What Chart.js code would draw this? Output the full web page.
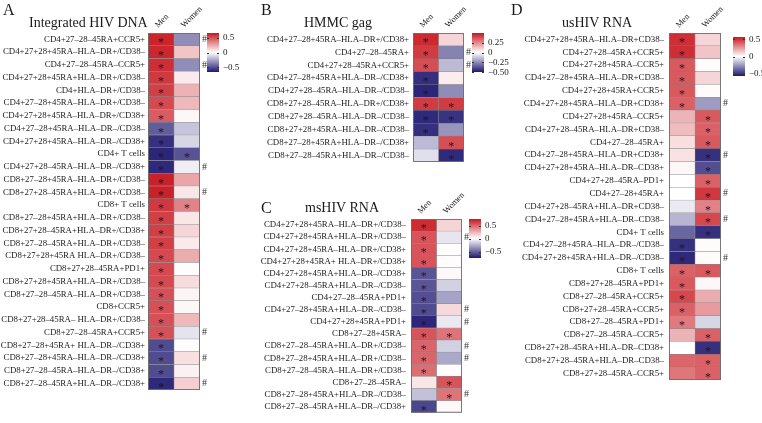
<!DOCTYPE html>
<html>
<head>
<meta charset="utf-8">
<script src="https://cdn.jsdelivr.net/npm/chart.js@4.4.1/dist/chart.umd.min.js"></script>
<style>
  body { margin: 0; background: #fff; }
  #wrap { position: relative; width: 762px; height: 423px; overflow: hidden; font-family: "Liberation Serif", serif; color: #1a1a1a; }
  canvas { position: absolute; }
  .letter { position: absolute; font-size: 16px; line-height: 16px; }
  .title { position: absolute; font-size: 14px; line-height: 14px; white-space: nowrap; }
  .cbar { position: absolute; width: 12px; height: 39px; background: linear-gradient(to bottom, rgb(200,22,30), #fff 50%, rgb(30,24,112)); }
  .cbtick { position: absolute; font-size: 9px; line-height: 9px; white-space: nowrap; }
  .cbmark { position: absolute; width: 2px; height: 1px; background: #333; }
</style>
</head>
<body>
<div id="wrap">
  <canvas id="chartA" width="255" height="423" style="left:0;top:0"></canvas>
  <canvas id="chartB" width="250" height="180" style="left:255px;top:0"></canvas>
  <canvas id="chartC" width="250" height="243" style="left:255px;top:180px"></canvas>
  <canvas id="chartD" width="257" height="423" style="left:505px;top:0"></canvas>

  <div class="letter" style="left:3px;top:2px">A</div>
  <div class="letter" style="left:261px;top:2px">B</div>
  <div class="letter" style="left:261px;top:200px">C</div>
  <div class="letter" style="left:511px;top:2px">D</div>

  <div class="title" style="left:29px;top:16px">Integrated HIV DNA</div>
  <div class="title" style="left:304px;top:16px">HMMC gag</div>
  <div class="title" style="left:305px;top:201px">msHIV RNA</div>
  <div class="title" style="left:562px;top:16px">usHIV RNA</div>
</div>
<script>
// 数据：A 整合HIV DNA
const aLabels = [
  'CD4+27–28–45RA+CCR5+', 'CD4+27+28+45RA–HLA–DR+/CD38–', 'CD4+27–28–45RA–CCR5+',
  'CD4+27+28+45RA+HLA–DR+/CD38–', 'CD4+HLA–DR+/CD38–', 'CD4+27–28+45RA–HLA–DR+/CD38–',
  'CD4+27+28+45RA–HLA–DR+/CD38+', 'CD4+27–28+45RA–HLA–DR–/CD38–', 'CD4+27+28+45RA–HLA–DR–/CD38+',
  'CD4+ T cells', 'CD4+27+28–45RA–HLA–DR–/CD38+', 'CD8+27–28+45RA–HLA–DR+/CD38–',
  'CD8+27+28–45RA+HLA–DR+/CD38–', 'CD8+ T cells', 'CD8+27–28+45RA+HLA–DR+/CD38–',
  'CD8+27+28–45RA+HLA–DR+/CD38+', 'CD8+27–28–45RA+HLA–DR+/CD38–', 'CD8+27+28+45RA HLA–DR+/CD38–',
  'CD8+27+28–45RA+PD1+', 'CD8+27+28+45RA+HLA–DR+/CD38–', 'CD8+27–28–45RA–HLA–DR+/CD38–',
  'CD8+CCR5+', 'CD8+27+28–45RA– HLA–DR+/CD38–', 'CD8+27–28–45RA+CCR5+',
  'CD8+27–28+45RA+ HLA–DR–/CD38+', 'CD8+27–28+45RA–HLA–DR–/CD38+', 'CD8+27–28–45RA–HLA–DR–/CD38+',
  'CD8+27–28–45RA+HLA–DR–/CD38+'
];
const aMen = [0.63, 0.62, 0.6, 0.57, 0.55, 0.52, 0.47, -0.47, -0.6, -0.63, -0.62, 0.64, 0.64, 0.57,
  0.55, 0.55, 0.55, 0.52, 0.52, 0.52, 0.5, 0.5, 0.5, 0.5, -0.52, -0.52, -0.52, -0.62];
const aWomen = [-0.33, 0.17, -0.33, 0.06, 0.22, 0.2, 0.02, -0.17, -0.12, -0.5, -0.05, 0.26, 0.07, 0.36,
  0.07, 0.12, 0.06, 0.24, 0.01, 0.1, 0.03, 0.02, 0.2, -0.08, 0.01, 0.09, 0.04, 0.14];
const aMenSig = [1,1,1,1,1,1,1,1,1,1,1,1,1,1,1,1,1,1,1,1,1,1,1,1,1,1,1,1];
const aWomenSig = [0,0,0,0,0,0,0,0,0,1,0,0,0,1,0,0,0,0,0,0,0,0,0,0,0,0,0,0];
const aHash = [1,0,1,0,0,0,0,0,0,0,1,0,1,0,0,0,0,0,0,0,0,0,0,1,0,1,0,1];
const aLimit = 0.67;
const aTicks = [0.5, 0, -0.5];

// 数据：B HMMC gag
const bLabels = [
  'CD4+27–28+45RA–HLA–DR+/CD38+', 'CD4+27–28–45RA+', 'CD4+27+28–45RA+CCR5+',
  'CD4+27–28+45RA+HLA–DR–/CD38+', 'CD4+27+28–45RA–HLA–DR–/CD38–', 'CD8+27+28–45RA–HLA–DR+/CD38+',
  'CD8+27+28–45RA–HLA–DR–/CD38–', 'CD8+27+28+45RA–HLA–DR–/CD38–', 'CD8+27–28+45RA+HLA–DR–/CD38+',
  'CD8+27–28–45RA+HLA–DR–/CD38–'
];
const bMen = [0.46, 0.42, 0.38, -0.45, -0.47, 0.42, -0.46, -0.45, -0.15, -0.07];
const bWomen = [0.09, -0.27, -0.15, 0.04, -0.25, 0.42, -0.44, -0.23, 0.38, -0.46];
const bMenSig = [1,1,1,1,1,1,1,1,0,0];
const bWomenSig = [0,0,0,0,0,1,1,0,1,1];
const bHash = [0,1,1,0,0,0,0,0,0,0];
const bLimit = 0.5;
const bTicks = [0.25, 0, -0.25, -0.5];
const bTickText = ['0.25', '0', '−0.25', '−0.50'];

// 数据：C msHIV RNA
const cLabels = [
  'CD4+27+28+45RA–HLA–DR+/CD38–', 'CD4+27+28+45RA+HLA–DR+/CD38–', 'CD4+27+28+45RA–HLA–DR+/CD38+',
  'CD4+27+28+45RA+ HLA–DR+/CD38+', 'CD4+27+28+45RA+HLA–DR–/CD38+', 'CD4+27+28–45RA+HLA–DR–/CD38–',
  'CD4+27–28–45RA+PD1+', 'CD4+27–28+45RA+HLA–DR–/CD38–', 'CD4+27+28+45RA+PD1+',
  'CD8+27–28+45RA–', 'CD8+27–28–45RA+HLA–DR+/CD38–', 'CD8+27–28+45RA+HLA–DR+/CD38–',
  'CD8+27–28–45RA–HLA–DR+/CD38–', 'CD8+27–28–45RA–', 'CD8+27–28+45RA+HLA–DR–/CD38–',
  'CD8+27–28–45RA+HLA–DR–/CD38+'
];
const cMen = [0.68, 0.55, 0.55, 0.55, -0.55, -0.55, -0.57, -0.58, -0.7, 0.55, 0.5, 0.5, 0.47, 0.08, -0.2, -0.6];
const cWomen = [0.14, -0.08, 0.01, 0.01, 0.02, -0.15, -0.3, 0.12, -0.07, 0.45, -0.15, -0.28, 0.01, 0.55, 0.45, 0.02];
const cMenSig = [1,1,1,1,1,1,1,1,1,1,1,1,1,0,0,1];
const cWomenSig = [0,0,0,0,0,0,0,0,0,1,0,0,0,1,1,0];
const cHash = [0,1,0,0,0,0,0,1,1,0,1,1,0,0,1,0];
const cLimit = 0.75;
const cTicks = [0.5, 0, -0.5];

// 数据：D usHIV RNA
const dLabels = [
  'CD4+27+28+45RA–HLA–DR+CD38–', 'CD4+27+28–45RA+CCR5+', 'CD4+27+28+45RA–CCR5+',
  'CD4+27–28+45RA–HLA–DR+CD38–', 'CD4+27+28+45RA+CCR5+', 'CD4+27+28+45RA–HLA–DR+CD38+',
  'CD4+27+28+45RA–CCR5+', 'CD4+27+28–45RA–HLA–DR+CD38–', 'CD4+27–28–45RA+',
  'CD4+27–28+45RA–HLA–DR+CD38+', 'CD4+27+28+45RA–HLA–DR–CD38+', 'CD4+27+28–45RA–PD1+',
  'CD4+27–28+45RA+', 'CD4+27+28–45RA+HLA–DR+CD38–', 'CD4+27–28+45RA+HLA–DR–CD38–',
  'CD4+ T cells', 'CD4+27–28+45RA–HLA–DR–/CD38–', 'CD4+27+28+45RA+HLA–DR–/CD38–',
  'CD8+ T cells', 'CD8+27+28–45RA+PD1+', 'CD8+27–28–45RA+CCR5+',
  'CD8+27+28–45RA+CCR5+', 'CD8+27–28–45RA+PD1+', 'CD8+27–28–45RA–CCR5+',
  'CD8+27+28–45RA+HLA–DR–CD38+', 'CD8+27+28–45RA+HLA–DR–CD38–', 'CD8+27+28–45RA–CCR5+'
];
const dMen = [0.5, 0.5, 0.4, 0.4, 0.4, 0.38, 0.18, 0.16, 0.08, 0.07, 0.02, 0.0, 0.0, -0.05, -0.18,
  -0.37, -0.5, -0.52, 0.38, 0.4, 0.44, 0.38, 0.32, 0.18, 0.0, 0.37, 0.33];
const dWomen = [0.1, 0.14, 0.01, 0.1, 0.01, -0.24, 0.4, 0.38, 0.4, -0.5, -0.43, 0.38, 0.48, 0.3, 0.44,
  -0.5, 0.01, 0.01, 0.4, 0.02, 0.2, 0.24, -0.1, 0.38, -0.5, 0.38, 0.38];
const dMenSig = [1,1,1,1,1,1,0,0,0,0,0,0,0,0,0,0,1,1,1,1,1,1,1,0,0,0,0];
const dWomenSig = [0,0,0,0,0,0,1,1,1,1,1,1,1,1,1,1,0,0,1,0,0,0,0,1,1,1,1];
const dHash = [0,0,0,0,0,1,0,0,0,1,0,0,1,0,1,0,0,1,0,0,0,0,0,0,0,0,0];
const dLimit = 0.56;
const dTicks = [0.5, 0, -0.5];

const columns = ['Men', 'Women'];

// 颜色映射：负值深蓝，0 白色，正值红色
function heatColor(v, limit) {
    let t = Math.max(-1, Math.min(1, v / limit));
    const end = t >= 0 ? [200, 22, 30] : [30, 24, 112];
    t = Math.abs(t);
    const c = end.map(e => Math.round(255 + (e - 255) * t));
    return `rgb(${c[0]},${c[1]},${c[2]})`;
}

// 星号、#号、列标题、外框
const cellMarks = {
    id: 'cellMarks',
    afterDatasetsDraw(chart, args, opts) {
        const ctx = chart.ctx;
        const area = chart.chartArea;
        const xs = chart.scales.x;
        const ys = chart.scales.y;
        ctx.save();
        ctx.strokeStyle = 'rgba(110,110,110,0.9)';
        ctx.lineWidth = 1;
        ctx.strokeRect(area.left + 0.5, area.top + 0.5, area.right - area.left - 1, area.bottom - area.top - 1);

        ctx.fillStyle = 'rgba(35,15,35,0.95)';
        ctx.font = '12px "Liberation Serif"';
        ctx.textAlign = 'center';
        ctx.textBaseline = 'alphabetic';
        opts.sig.forEach((col, ci) => {
            col.forEach((s, i) => {
                if (s) ctx.fillText('*', xs.getPixelForValue(ci + 0.5), ys.getPixelForValue(i) + 7);
            });
        });

        ctx.fillStyle = '#333';
        ctx.font = '10px "Liberation Serif"';
        ctx.textAlign = 'left';
        ctx.textBaseline = 'middle';
        opts.hash.forEach((h, i) => {
            if (h) ctx.fillText('#', area.right + 2, ys.getPixelForValue(i));
        });

        ctx.fillStyle = '#222';
        ctx.font = '8.5px "Liberation Serif"';
        ctx.textBaseline = 'alphabetic';
        columns.forEach((name, ci) => {
            ctx.save();
            ctx.translate(xs.getPixelForValue(ci + 0.5) - 3, area.top - 5);
            ctx.rotate(-Math.PI / 4);
            ctx.fillText(name, 0, 0);
            ctx.restore();
        });
        ctx.restore();
    }
};

function makeHeatmap(id, labels, men, women, menSig, womenSig, hash, limit, yWidth, pad, tickPad) {
    const common = {
        grouped: false,
        categoryPercentage: 1,
        barPercentage: 1,
        borderWidth: 0.5,
        borderColor: 'rgba(90,90,90,0.6)',
        borderSkipped: false
    };
    return new Chart(document.getElementById(id), {
        type: 'bar',
        data: {
            labels: labels,
            datasets: [
                Object.assign({ label: 'Men', data: men.map(() => [0, 1]), backgroundColor: men.map(v => heatColor(v, limit)) }, common),
                Object.assign({ label: 'Women', data: women.map(() => [1, 2]), backgroundColor: women.map(v => heatColor(v, limit)) }, common)
            ]
        },
        options: {
            indexAxis: 'y',
            responsive: false,
            animation: false,
            layout: { padding: pad },
            plugins: {
                legend: { display: false },
                tooltip: { enabled: false },
                cellMarks: { sig: [menSig, womenSig], hash: hash }
            },
            scales: {
                x: { type: 'linear', min: 0, max: 2, display: false },
                y: {
                    type: 'category',
                    grid: { display: false, drawTicks: false },
                    border: { display: false },
                    ticks: {
                        autoSkip: false,
                        padding: tickPad,
                        color: '#222',
                        font: { family: 'Liberation Serif', size: 8.8 }
                    },
                    afterFit: function(scale) { scale.width = yWidth; }
                }
            }
        },
        plugins: [cellMarks]
    });
}

makeHeatmap('chartA', aLabels, aMen, aWomen, aMenSig, aWomenSig, aHash, aLimit, 148,
    { left: 0, right: 55, top: 33, bottom: 33 }, 3);
makeHeatmap('chartB', bLabels, bMen, bWomen, bMenSig, bWomenSig, bHash, bLimit, 158,
    { left: 0, right: 41, top: 33, bottom: 18 }, 4);
makeHeatmap('chartC', cLabels, cMen, cWomen, cMenSig, cWomenSig, cHash, cLimit, 156,
    { left: 0, right: 43, top: 39, bottom: 5 }, 5);
makeHeatmap('chartD', dLabels, dMen, dWomen, dMenSig, dWomenSig, dHash, dLimit, 164,
    { left: 0, right: 41, top: 33, bottom: 43 }, 5);

// 色标
function addColorbar(left, top, limit, ticks, texts) {
    const wrap = document.getElementById('wrap');
    const bar = document.createElement('div');
    bar.className = 'cbar';
    bar.style.left = left + 'px';
    bar.style.top = top + 'px';
    wrap.appendChild(bar);
    ticks.forEach((v, i) => {
        const y = top + (limit - v) / (2 * limit) * 39;
        [left, left + 10].forEach(mx => {
            const m = document.createElement('div');
            m.className = 'cbmark';
            m.style.left = mx + 'px';
            m.style.top = Math.round(y) + 'px';
            wrap.appendChild(m);
        });
        const lab = document.createElement('div');
        lab.className = 'cbtick';
        lab.style.left = (left + 16) + 'px';
        lab.style.top = (y - 4.5) + 'px';
        lab.textContent = texts ? texts[i] : (v < 0 ? '−' + Math.abs(v) : String(v));
        wrap.appendChild(lab);
    });
}

addColorbar(207, 33, aLimit, aTicks);
addColorbar(472, 33, bLimit, bTicks, bTickText);
addColorbar(469, 219, cLimit, cTicks);
addColorbar(733, 37, dLimit, dTicks);
</script>
</body>
</html>
